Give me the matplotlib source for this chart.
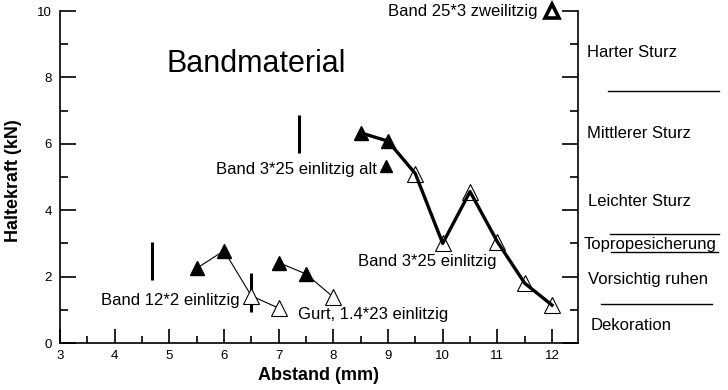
import matplotlib
matplotlib.use("Agg")
import matplotlib.pyplot as plt
from matplotlib.lines import Line2D
from matplotlib.ticker import MultipleLocator

plt.rcParams['font.family'] = ['Liberation Sans', 'DejaVu Sans']

# ---- data ----
# Band 3*25 einlitzig (thick line): filled part ("alt") and open part
b325_alt_x = [8.5, 9.0]
b325_alt_y = [6.33, 6.08]
b325_x = [9.5, 10.0, 10.5, 11.0, 11.5, 12.0]
b325_y = [5.1, 3.0, 4.56, 3.05, 1.8, 1.14]
alt_marker_x = [8.97]
alt_marker_y = [5.34]

# Band 12*2 einlitzig (thin line)
b122_alt_x = [5.5, 6.0]
b122_alt_y = [2.25, 2.78]
b122_x = [6.5, 7.0]
b122_y = [1.42, 1.05]

# Gurt 1.4*23 einlitzig (thin line)
gurt_alt_x = [7.0, 7.5]
gurt_alt_y = [2.42, 2.08]
gurt_x = [8.0]
gurt_y = [1.38]

# Band 25*3 zweilitzig
b253_x = [12.0]
b253_y = [10.0]

# range bars (x, ymin, ymax)
bar_x = [4.69, 6.5, 7.37]
bar_ymin = [1.9, 0.94, 5.71]
bar_ymax = [3.05, 2.1, 6.87]

labels_in = ["Band 3*25 einlitzig alt", "Band 3*25 einlitzig", "Band 12*2 einlitzig",
             "Gurt, 1.4*23 einlitzig", "Band 25*3 zweilitzig"]
cat_labels = ["Harter Sturz", "Mittlerer Sturz", "Leichter Sturz",
              "Topropesicherung", "Vorsichtig ruhen", "Dekoration"]

W, H = 728, 390
fig = plt.figure(figsize=(W / 100, H / 100), dpi=100)
ax = fig.add_axes([60 / W, 1 - 343 / H, (578 - 60) / W, (343 - 11) / H])
ax.set_xlim(3, 12.475)
ax.set_ylim(0, 10)

# thick series
thick_x = b325_alt_x + b325_x
thick_y = b325_alt_y + b325_y
ax.plot(thick_x, thick_y, color='black', lw=2.4, zorder=2)
ax.plot(b325_alt_x, b325_alt_y, ls='none', marker='^', ms=10.5, mfc='black', mec='black', zorder=3)
ax.plot(b325_x, b325_y, ls='none', marker='^', ms=11.5, mfc='none', mec='black', mew=0.8, zorder=3)
ax.plot(alt_marker_x, alt_marker_y, ls='none', marker='^', ms=9, mfc='black', mec='black', zorder=3)

# thin series
for ax_x, ax_y, o_x, o_y in [(b122_alt_x, b122_alt_y, b122_x, b122_y),
                             (gurt_alt_x, gurt_alt_y, gurt_x, gurt_y)]:
    ax.plot(ax_x + o_x, ax_y + o_y, color='black', lw=0.8, zorder=2)
    ax.plot(ax_x, ax_y, ls='none', marker='^', ms=9.5, mfc='black', mec='black', zorder=3)
    ax.plot(o_x, o_y, ls='none', marker='^', ms=11, mfc='white', mec='black', mew=0.8, zorder=3)

ax.plot(b253_x, b253_y, ls='none', marker='^', ms=10.5, mfc='white', mec='black', mew=2.6,
        zorder=4, clip_on=False)

# range bars
ax.vlines(bar_x, bar_ymin, bar_ymax, color='black', lw=2.2)

# texts inside
fs = 12
ax.text(5.853, 5.105, labels_in[0], fontsize=fs, va='baseline', ha='left')
ax.text(8.451, 2.319, labels_in[1], fontsize=fs, va='baseline', ha='left')
ax.text(3.75, 1.145, labels_in[2], fontsize=fs, va='baseline', ha='left')
ax.text(7.348, 0.714, labels_in[3], fontsize=fs, va='baseline', ha='left')
ax.text(11.743, 9.85, labels_in[4], fontsize=fs, va='baseline', ha='right', clip_on=False)
ax.text(4.939, 8.17, "Bandmaterial", fontsize=22, va='baseline', ha='left')

# right-side category labels (figure pixel positions)
cat_pos = [(587, 56.7), (587, 137.7), (587.5, 206), (584, 249.3), (588.3, 284.3), (590.7, 330)]
for (px, py), t in zip(cat_pos, cat_labels):
    fig.text(px / W, 1 - py / H, t, fontsize=fs, va='baseline', ha='left')

for x0, x1, y in [(608, 719, 91), (610, 719, 233.5), (611, 718, 252.3), (601, 711.5, 303.5)]:
    fig.add_artist(Line2D([x0 / W, x1 / W], [1 - y / H, 1 - y / H], transform=fig.transFigure,
                          color='black', lw=1.0))

# axes styling
ax.spines['top'].set_visible(False)
for s in ['left', 'right', 'bottom']:
    ax.spines[s].set_linewidth(1.2)
ax.xaxis.set_major_locator(MultipleLocator(1))
ax.xaxis.set_minor_locator(MultipleLocator(0.5))
ax.yaxis.set_major_locator(MultipleLocator(2))
ax.yaxis.set_minor_locator(MultipleLocator(1))
ax.xaxis.set_ticks_position('bottom')
ax.yaxis.set_ticks_position('both')
ax.tick_params(axis='x', which='major', direction='in', length=10, width=1.2, labelsize=9.5, pad=5)
ax.tick_params(axis='x', which='minor', direction='in', length=5, width=1.2)
ax.tick_params(axis='y', which='major', direction='in', length=11.5, width=1.2, labelsize=9.5, pad=6)
ax.tick_params(axis='y', which='minor', direction='in', length=5.5, width=1.2)
ax.tick_params(axis='y', which='both', labelright=False)

ax.set_xlabel("Abstand (mm)", fontsize=13, fontweight='bold')
ax.set_ylabel("Haltekraft (kN)", fontsize=13, fontweight='bold')
ax.xaxis.set_label_coords(0.5, -(367 - 343) / 332)
ax.yaxis.set_label_coords(-(60 - 22) / 518, 0.49)

fig.savefig("out.png", dpi=100)
